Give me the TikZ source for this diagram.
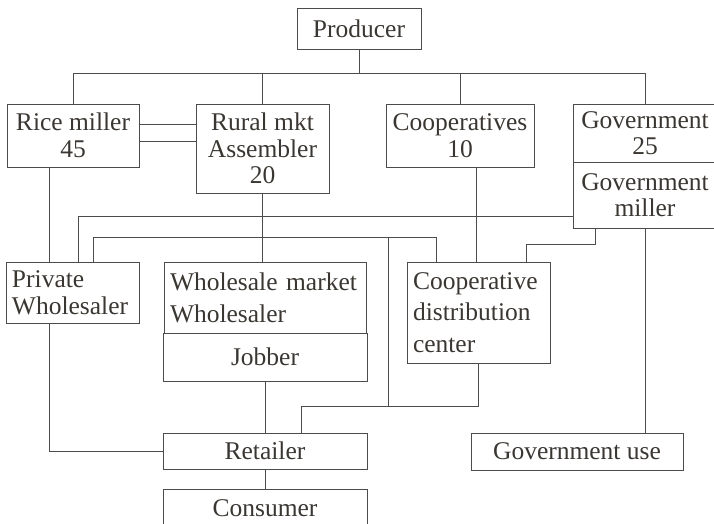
\documentclass[tikz,border=0pt]{standalone}
\usepackage{fontspec}
\setmainfont{Liberation Serif}
\usepackage{xcolor}
\usetikzlibrary{positioning}
\definecolor{linecol}{RGB}{78,76,74}
\definecolor{textcol}{RGB}{58,54,50}

\begin{document}
\begin{tikzpicture}[x=1pt, y=-1pt,
  box/.style={draw=linecol, line width=0.9pt, text=textcol, rectangle, inner sep=0pt,
    font=\fontsize{25.5}{26.5}\selectfont, align=center},
  lbox/.style={box, inner xsep=6pt, align=left},
  link/.style={draw=linecol, line width=0.9pt}]

\useasboundingbox (0,0) rectangle (714,524);

% Top level
\node[box, minimum width=124pt, minimum height=41pt] (prod) at (359,28.5) {Producer};
\node[box, minimum width=132pt, minimum height=63pt] (rice) at (73,135.5) {Rice miller\\45};
\node[box, minimum width=133pt, minimum height=89pt] (rural) at (262.5,148.5) {Rural mkt\\Assembler\\20};
\node[box, minimum width=148pt, minimum height=63pt] (coop) at (460,135.5) {Cooperatives\\10};
\node[box, minimum width=144pt, minimum height=58pt] (gov) at (645,133) {Government\\25};
\node[box, minimum width=144pt, minimum height=66pt] (govm) at (645,195) {Government\\miller};

% Middle level
\node[lbox, text width=121pt, minimum height=61pt] (pw) at (72.5,292.5) {Private\\Wholesaler};
\node[lbox, text width=190pt, minimum height=71pt, font=\fontsize{25.5}{32}\selectfont] (wm) at (265,297.5) {Wholesale market\\Wholesaler};
\node[box, minimum width=204pt, minimum height=48pt] (job) at (265,357) {Jobber};
\node[lbox, text width=131pt, minimum height=101pt, font=\fontsize{25.5}{31.5}\selectfont] (coopd) at (478.5,312.5) {Cooperative\\distribution\\center};

% Bottom level
\node[box, minimum width=204pt, minimum height=36pt] (ret) at (265,451) {Retailer};
\node[box, minimum width=204pt, minimum height=38pt] (cons) at (265,508) {Consumer};
\node[box, minimum width=212pt, minimum height=37pt] (guse) at (577,451.5) {Government use};

% Routing points
\coordinate (bar) at (0,73);
\coordinate (busb) at (0,237);
\coordinate (busc) at (0,406);
\coordinate (busd) at (0,244);
\coordinate (drop) at (388,237);
\coordinate (rr1) at ([yshift=11.5pt]rice.east);
\coordinate (rr2) at ([yshift=-5.5pt]rice.east);
\coordinate (riceout) at ([xshift=-24pt]rice.south);
\coordinate (coopout) at ([xshift=16pt]coop.south);
\coordinate (gmleft) at ([yshift=-21pt]govm.west);
\coordinate (gmout) at ([xshift=-50pt]govm.south);
\coordinate (pwin1) at ([xshift=5.5pt]pw.north);
\coordinate (pwin2) at ([xshift=20.5pt]pw.north);
\coordinate (pwout) at ([xshift=-23.5pt]pw.south);
\coordinate (cdin1) at ([xshift=-42.5pt]coopd.north);
\coordinate (cdin2) at ([xshift=47.5pt]coopd.north);
\coordinate (retin) at ([xshift=36pt]ret.north);

% Producer to first level
\draw[link] (rice.north) |- (gov.north |- bar) -- (gov.north);
\foreach \n in {prod.south, rural.north, coop.north}
  \draw[link] (\n) -- (\n |- bar);

% Rice miller and assembler
\draw[link] (rr1) -- (rr1 -| rural.west);
\draw[link] (rr2) -- (rr2 -| rural.west);

% Down to wholesalers
\draw[link] (riceout) -- (riceout |- pw.north);
\draw[link] (rural.south) -- (rural.south |- wm.north);
\draw[link] (coopout) -- (coopout |- coopd.north);
\draw[link] (gmleft) -| (pwin1);
\draw[link] (pwin2) |- (cdin1 |- busb) -- (cdin1);
\draw[link] (gmout) |- (busd -| cdin2) -- (cdin2);

% Down to retail
\draw[link] (pwout) |- (ret.west);
\draw[link] (job.south) -- (job.south |- ret.north);
\draw[link] (coopd.south) -- (coopd.south |- busc) -| (retin);
\draw[link] (drop) -- (drop |- busc);
\draw[link] (govm.south) -- (govm.south |- guse.north);
\draw[link] (ret.south) -- (cons.north);

\end{tikzpicture}
\end{document}
